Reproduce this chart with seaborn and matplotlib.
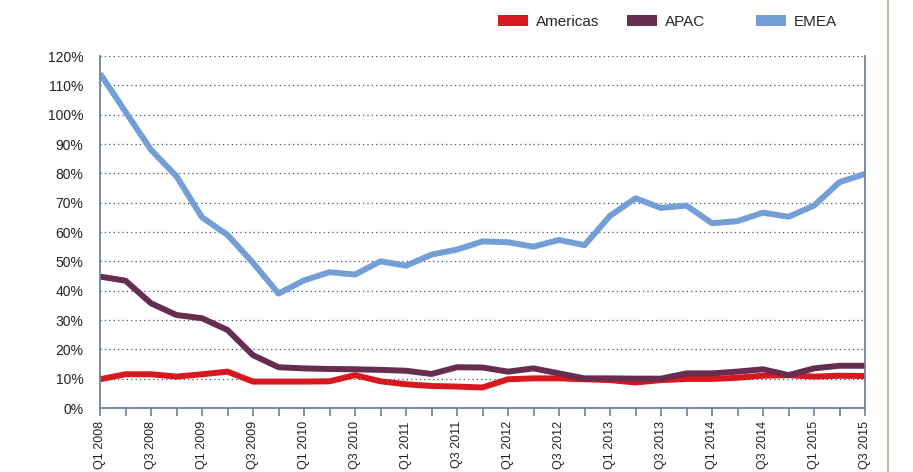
import matplotlib
matplotlib.use("Agg")
import matplotlib.pyplot as plt
import seaborn as sns
import pandas as pd
from matplotlib.patches import Patch
from matplotlib.lines import Line2D
from matplotlib.ticker import FixedLocator, PercentFormatter

quarters = [f"Q{q} {y}" for y in range(2008, 2016) for q in range(1, 5)][:31]

americas = [9.8, 11.5, 11.5, 10.7, 11.5, 12.4, 9.0, 9.0, 9.0, 9.1, 11.2, 9.1, 8.1, 7.5,
            7.3, 7.0, 9.8, 10.1, 10.1, 9.8, 9.5, 8.7, 9.5, 9.9, 9.9, 10.3, 11.0, 11.2,
            10.7, 11.0, 10.9]
apac = [44.8, 43.4, 35.7, 31.7, 30.6, 26.6, 18.0, 13.9, 13.5, 13.3, 13.2, 13.0, 12.7,
        11.6, 13.9, 13.8, 12.4, 13.5, 11.8, 10.1, 10.1, 10.0, 10.0, 11.8, 11.8, 12.4,
        13.2, 11.2, 13.5, 14.4, 14.4]
emea = [114, 101, 88, 79, 65, 59, 49.5, 39, 43.5, 46.3, 45.5, 50, 48.5, 52.3, 54, 56.8,
        56.5, 55, 57.3, 55.5, 65.5, 71.5, 68.2, 69, 63, 63.7, 66.6, 65.2, 69, 77, 79.8]

series = {"Americas": americas, "APAC": apac, "EMEA": emea}
colors = {"Americas": "#D7181F", "APAC": "#662D51", "EMEA": "#739FD6"}

rows = []
for name, vals in series.items():
    for i, v in enumerate(vals):
        rows.append({"idx": i, "quarter": quarters[i], "region": name, "value": v})
df = pd.DataFrame(rows)

sns.set_theme(style="white")
plt.rcParams["font.family"] = ["Liberation Sans", "DejaVu Sans"]

fig = plt.figure(figsize=(9.13, 4.72), dpi=100)
ax = fig.add_axes([100 / 913, 64 / 472, 765 / 913, 352 / 472])

sns.lineplot(data=df, x="idx", y="value", hue="region", palette=colors,
             linewidth=4.3, ax=ax, legend=False, solid_capstyle="butt")

ax.set_xlim(0, len(quarters) - 1)
ax.set_ylim(0, 120)
ax.set_yticks(range(0, 121, 10))
ax.yaxis.set_major_formatter(PercentFormatter(decimals=0))
ax.set_xticks(range(0, len(quarters), 2))
ax.set_xticklabels([quarters[i] for i in range(0, len(quarters), 2)], rotation=90)
ax.xaxis.set_minor_locator(FixedLocator(range(1, len(quarters), 2)))
ax.set_xlabel("")
ax.set_ylabel("")

gridc = "#3f536b"
spinec = "#6f8294"
ax.yaxis.grid(True, linestyle=(0, (1, 2.5)), color=gridc, linewidth=0.9)
ax.xaxis.grid(False)
for s in ["left", "bottom", "right"]:
    ax.spines[s].set_visible(True)
    ax.spines[s].set_color(spinec)
    ax.spines[s].set_linewidth(1.3)
ax.spines["top"].set_visible(False)

ax.tick_params(axis="x", which="both", bottom=True, direction="out", length=6,
               width=1.2, color=spinec, labelsize=9, labelcolor="#222222", pad=3.5)
ax.tick_params(axis="y", left=False, labelsize=10, labelcolor="#222222", pad=6)

# legend entries, one per region, placed along the top
legend_x = {"Americas": 498, "APAC": 627, "EMEA": 756}
for name in series:
    h = Patch(facecolor=colors[name], edgecolor="none", label=name)
    fig.legend(handles=[h], loc="center left",
               bbox_to_anchor=(legend_x[name] / 913, 1 - 22 / 472),
               frameon=False, fontsize=11, handlelength=1.96, handleheight=0.72,
               handletextpad=0.5, borderpad=0, borderaxespad=0)

fig.add_artist(Line2D([888 / 913, 888 / 913], [0, 1], color="#b8ab96", linewidth=1.2))

fig.savefig("out.png", dpi=100)
